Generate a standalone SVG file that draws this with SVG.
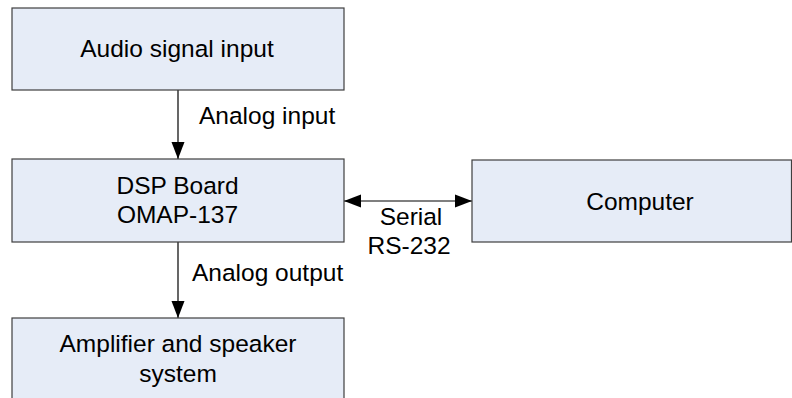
<svg xmlns="http://www.w3.org/2000/svg" width="792" height="398" viewBox="0 0 792 398">
<style>
.box{fill:#E6ECF7;stroke:#3F3F3F;stroke-width:1.2}
.t{font-family:"Liberation Sans",Arial,sans-serif;font-size:24.5px;fill:#000}
.c{text-anchor:middle}
.ln{stroke:#000;stroke-width:1.2;fill:none}
</style>
<defs>
<marker id="ah" markerUnits="userSpaceOnUse" markerWidth="18" markerHeight="14" refX="17" refY="7" orient="auto-start-reverse">
<path d="M0,0.5 L17,7 L0,13.5 z" fill="#000"/>
</marker>
</defs>
<rect width="792" height="398" fill="#fff"/>
<g id="connectors">
<line class="ln" x1="178" y1="90" x2="178" y2="159" marker-end="url(#ah)"/>
<line class="ln" x1="178" y1="242" x2="178" y2="318" marker-end="url(#ah)"/>
<line class="ln" x1="344" y1="201" x2="472" y2="201" marker-start="url(#ah)" marker-end="url(#ah)"/>
<text class="t" x="199" y="124">Analog input</text>
<text class="t" x="192" y="281">Analog output</text>
<text class="t c" x="411" y="225">Serial</text>
<text class="t c" x="409" y="254">RS-232</text>
</g>
<g id="audio">
<rect class="box" x="12" y="8" width="332" height="82"/>
<text class="t c" x="177" y="57">Audio signal input</text>
</g>
<g id="dsp">
<rect class="box" x="12" y="159" width="332" height="83"/>
<text class="t c" x="177.5" y="194">DSP Board</text>
<text class="t c" x="177.5" y="223">OMAP-137</text>
</g>
<g id="computer">
<rect class="box" x="472" y="160" width="319.5" height="82"/>
<text class="t c" x="640" y="210">Computer</text>
</g>
<g id="amp">
<rect class="box" x="12" y="318" width="332" height="100"/>
<text class="t c" x="178" y="352">Amplifier and speaker</text>
<text class="t c" x="178" y="382">system</text>
</g>
</svg>
